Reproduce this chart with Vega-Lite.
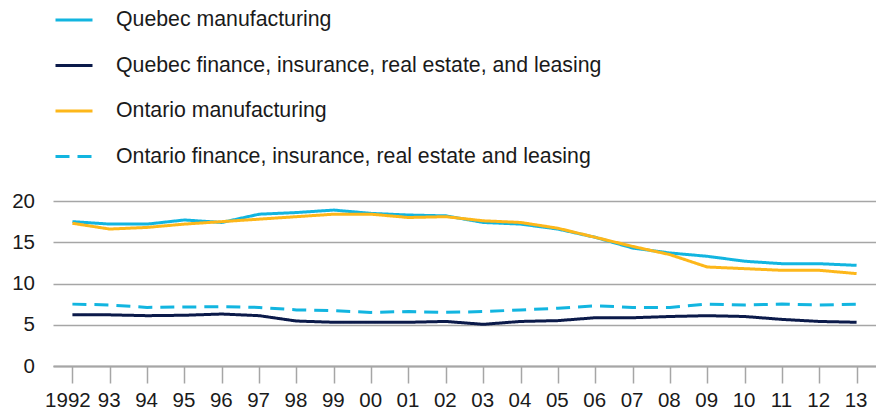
{
  "$schema": "https://vega.github.io/schema/vega-lite/v6.json",
  "width": 823,
  "height": 165,
  "autosize": {"type": "none"},
  "padding": {"left": 53, "top": 201, "right": 0, "bottom": 47},
  "background": "white",
  "config": {
    "view": {"stroke": null},
    "font": "Liberation Sans",
    "axis": {"labelFont": "Liberation Sans", "labelFontSize": 20.5, "labelColor": "#1a1a1a"},
    "legend": {"labelFont": "Liberation Sans", "labelFontSize": 21.3, "labelColor": "#1a1a1a"}
  },
  "data": {
    "values": [
      {"series": "Quebec manufacturing", "year": 1992, "value": 17.5},
      {"series": "Quebec manufacturing", "year": 1993, "value": 17.2},
      {"series": "Quebec manufacturing", "year": 1994, "value": 17.2},
      {"series": "Quebec manufacturing", "year": 1995, "value": 17.7},
      {"series": "Quebec manufacturing", "year": 1996, "value": 17.4},
      {"series": "Quebec manufacturing", "year": 1997, "value": 18.4},
      {"series": "Quebec manufacturing", "year": 1998, "value": 18.6},
      {"series": "Quebec manufacturing", "year": 1999, "value": 18.9},
      {"series": "Quebec manufacturing", "year": 2000, "value": 18.5},
      {"series": "Quebec manufacturing", "year": 2001, "value": 18.3},
      {"series": "Quebec manufacturing", "year": 2002, "value": 18.2},
      {"series": "Quebec manufacturing", "year": 2003, "value": 17.4},
      {"series": "Quebec manufacturing", "year": 2004, "value": 17.2},
      {"series": "Quebec manufacturing", "year": 2005, "value": 16.6},
      {"series": "Quebec manufacturing", "year": 2006, "value": 15.6},
      {"series": "Quebec manufacturing", "year": 2007, "value": 14.3},
      {"series": "Quebec manufacturing", "year": 2008, "value": 13.7},
      {"series": "Quebec manufacturing", "year": 2009, "value": 13.3},
      {"series": "Quebec manufacturing", "year": 2010, "value": 12.7},
      {"series": "Quebec manufacturing", "year": 2011, "value": 12.4},
      {"series": "Quebec manufacturing", "year": 2012, "value": 12.4},
      {"series": "Quebec manufacturing", "year": 2013, "value": 12.2},
      {"series": "Quebec finance, insurance, real estate, and leasing", "year": 1992, "value": 6.2},
      {"series": "Quebec finance, insurance, real estate, and leasing", "year": 1993, "value": 6.2},
      {"series": "Quebec finance, insurance, real estate, and leasing", "year": 1994, "value": 6.1},
      {"series": "Quebec finance, insurance, real estate, and leasing", "year": 1995, "value": 6.15},
      {"series": "Quebec finance, insurance, real estate, and leasing", "year": 1996, "value": 6.3},
      {"series": "Quebec finance, insurance, real estate, and leasing", "year": 1997, "value": 6.1},
      {"series": "Quebec finance, insurance, real estate, and leasing", "year": 1998, "value": 5.45},
      {"series": "Quebec finance, insurance, real estate, and leasing", "year": 1999, "value": 5.3},
      {"series": "Quebec finance, insurance, real estate, and leasing", "year": 2000, "value": 5.3},
      {"series": "Quebec finance, insurance, real estate, and leasing", "year": 2001, "value": 5.3},
      {"series": "Quebec finance, insurance, real estate, and leasing", "year": 2002, "value": 5.4},
      {"series": "Quebec finance, insurance, real estate, and leasing", "year": 2003, "value": 5.05},
      {"series": "Quebec finance, insurance, real estate, and leasing", "year": 2004, "value": 5.4},
      {"series": "Quebec finance, insurance, real estate, and leasing", "year": 2005, "value": 5.5},
      {"series": "Quebec finance, insurance, real estate, and leasing", "year": 2006, "value": 5.85},
      {"series": "Quebec finance, insurance, real estate, and leasing", "year": 2007, "value": 5.85},
      {"series": "Quebec finance, insurance, real estate, and leasing", "year": 2008, "value": 6.0},
      {"series": "Quebec finance, insurance, real estate, and leasing", "year": 2009, "value": 6.1},
      {"series": "Quebec finance, insurance, real estate, and leasing", "year": 2010, "value": 6.0},
      {"series": "Quebec finance, insurance, real estate, and leasing", "year": 2011, "value": 5.65},
      {"series": "Quebec finance, insurance, real estate, and leasing", "year": 2012, "value": 5.4},
      {"series": "Quebec finance, insurance, real estate, and leasing", "year": 2013, "value": 5.3},
      {"series": "Ontario manufacturing", "year": 1992, "value": 17.3},
      {"series": "Ontario manufacturing", "year": 1993, "value": 16.6},
      {"series": "Ontario manufacturing", "year": 1994, "value": 16.8},
      {"series": "Ontario manufacturing", "year": 1995, "value": 17.2},
      {"series": "Ontario manufacturing", "year": 1996, "value": 17.5},
      {"series": "Ontario manufacturing", "year": 1997, "value": 17.8},
      {"series": "Ontario manufacturing", "year": 1998, "value": 18.1},
      {"series": "Ontario manufacturing", "year": 1999, "value": 18.4},
      {"series": "Ontario manufacturing", "year": 2000, "value": 18.4},
      {"series": "Ontario manufacturing", "year": 2001, "value": 18.0},
      {"series": "Ontario manufacturing", "year": 2002, "value": 18.1},
      {"series": "Ontario manufacturing", "year": 2003, "value": 17.6},
      {"series": "Ontario manufacturing", "year": 2004, "value": 17.4},
      {"series": "Ontario manufacturing", "year": 2005, "value": 16.7},
      {"series": "Ontario manufacturing", "year": 2006, "value": 15.6},
      {"series": "Ontario manufacturing", "year": 2007, "value": 14.5},
      {"series": "Ontario manufacturing", "year": 2008, "value": 13.5},
      {"series": "Ontario manufacturing", "year": 2009, "value": 12.0},
      {"series": "Ontario manufacturing", "year": 2010, "value": 11.8},
      {"series": "Ontario manufacturing", "year": 2011, "value": 11.6},
      {"series": "Ontario manufacturing", "year": 2012, "value": 11.6},
      {"series": "Ontario manufacturing", "year": 2013, "value": 11.2},
      {"series": "Ontario finance, insurance, real estate and leasing", "year": 1992, "value": 7.5},
      {"series": "Ontario finance, insurance, real estate and leasing", "year": 1993, "value": 7.4},
      {"series": "Ontario finance, insurance, real estate and leasing", "year": 1994, "value": 7.1},
      {"series": "Ontario finance, insurance, real estate and leasing", "year": 1995, "value": 7.15},
      {"series": "Ontario finance, insurance, real estate and leasing", "year": 1996, "value": 7.2},
      {"series": "Ontario finance, insurance, real estate and leasing", "year": 1997, "value": 7.1},
      {"series": "Ontario finance, insurance, real estate and leasing", "year": 1998, "value": 6.8},
      {"series": "Ontario finance, insurance, real estate and leasing", "year": 1999, "value": 6.7},
      {"series": "Ontario finance, insurance, real estate and leasing", "year": 2000, "value": 6.5},
      {"series": "Ontario finance, insurance, real estate and leasing", "year": 2001, "value": 6.6},
      {"series": "Ontario finance, insurance, real estate and leasing", "year": 2002, "value": 6.5},
      {"series": "Ontario finance, insurance, real estate and leasing", "year": 2003, "value": 6.6},
      {"series": "Ontario finance, insurance, real estate and leasing", "year": 2004, "value": 6.8},
      {"series": "Ontario finance, insurance, real estate and leasing", "year": 2005, "value": 7.0},
      {"series": "Ontario finance, insurance, real estate and leasing", "year": 2006, "value": 7.3},
      {"series": "Ontario finance, insurance, real estate and leasing", "year": 2007, "value": 7.1},
      {"series": "Ontario finance, insurance, real estate and leasing", "year": 2008, "value": 7.1},
      {"series": "Ontario finance, insurance, real estate and leasing", "year": 2009, "value": 7.5},
      {"series": "Ontario finance, insurance, real estate and leasing", "year": 2010, "value": 7.4},
      {"series": "Ontario finance, insurance, real estate and leasing", "year": 2011, "value": 7.5},
      {"series": "Ontario finance, insurance, real estate and leasing", "year": 2012, "value": 7.4},
      {"series": "Ontario finance, insurance, real estate and leasing", "year": 2013, "value": 7.5}
    ]
  },
  "mark": {"type": "line", "strokeWidth": 3, "strokeCap": "butt"},
  "encoding": {
    "x": {
      "field": "year",
      "type": "ordinal",
      "scale": {"type": "point", "padding": 0.52},
      "axis": {
        "title": null,
        "labelAngle": 0,
        "labelExpr": "datum.value == 1992 ? '1992' : slice(toString(datum.value), 2)",
        "labelOffset": {"condition": {"test": "datum.value == 1992", "value": -5}, "value": -1},
        "labelOverlap": false,
        "domainColor": "#a6a6a6",
        "domainWidth": 2,
        "tickColor": "#a6a6a6",
        "tickWidth": 1.5,
        "tickSize": 17,
        "labelPadding": 7,
        "grid": false
      }
    },
    "y": {
      "field": "value",
      "type": "quantitative",
      "scale": {"domain": [0, 20]},
      "axis": {
        "title": null,
        "values": [0, 5, 10, 15, 20],
        "domain": false,
        "ticks": false,
        "labelPadding": 18.5,
        "gridColor": "#a6a6a6",
        "gridWidth": 1.5
      }
    },
    "color": {
      "field": "series",
      "type": "nominal",
      "sort": null,
      "scale": {
        "domain": ["Quebec manufacturing", "Quebec finance, insurance, real estate, and leasing", "Ontario manufacturing", "Ontario finance, insurance, real estate and leasing"],
        "range": ["#12b5e0", "#0b1a4a", "#fdb71a", "#12b5e0"]
      },
      "legend": {
        "title": null,
        "orient": "none",
        "legendX": 1,
        "legendY": -201,
        "symbolType": "stroke",
        "symbolSize": 1369,
        "symbolStrokeWidth": 3,
        "labelOffset": 22,
        "rowPadding": 14.5,
        "labelLimit": 700
      }
    },
    "strokeDash": {
      "field": "series",
      "type": "nominal",
      "sort": null,
      "scale": {
        "domain": ["Quebec manufacturing", "Quebec finance, insurance, real estate, and leasing", "Ontario manufacturing", "Ontario finance, insurance, real estate and leasing"],
        "range": [[1, 0], [1, 0], [1, 0], [14, 8]]
      },
      "legend": null
    }
  }
}
